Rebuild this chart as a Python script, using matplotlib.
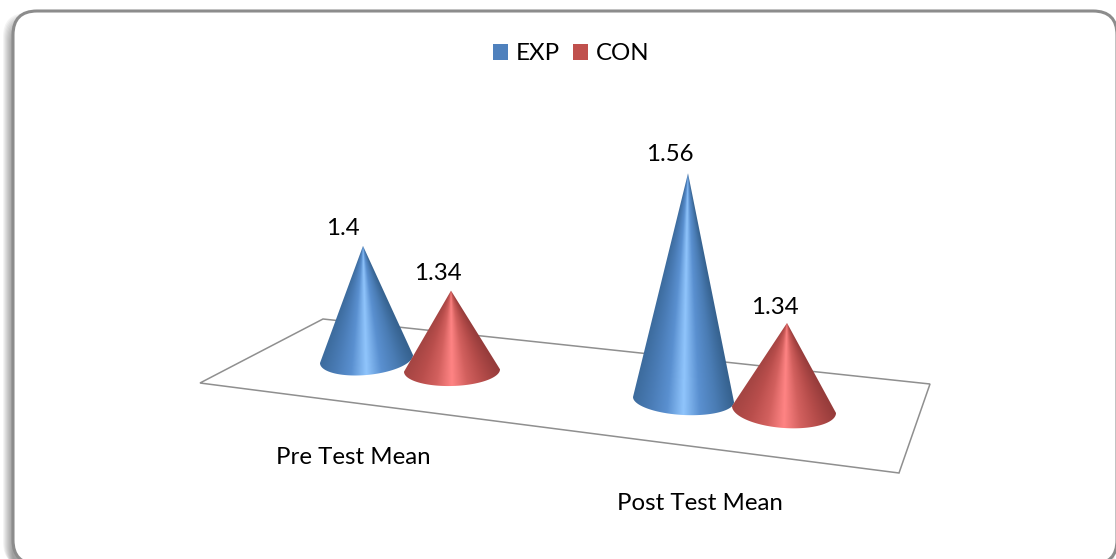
"""Cone chart of pre and post test means, drawn on a tilted floor."""
import matplotlib

matplotlib.use("Agg")
import matplotlib.pyplot as plt
import numpy as np
from matplotlib.colors import LinearSegmentedColormap
from matplotlib.patches import FancyBboxPatch, Patch, Polygon

CATEGORIES = ["Pre Test Mean", "Post Test Mean"]
SERIES = ["EXP", "CON"]
EXP_VALUES = [1.4, 1.56]
CON_VALUES = [1.34, 1.34]

# value axis of the 3D chart: where cones start and how tall a unit is (in base radii)
AXIS_MIN = 1.21
HEIGHT_PER_UNIT = 12.8

# layout, in pixels, order: pre EXP, pre CON, post EXP, post CON
BASE_X = [366.5, 452, 683.5, 784]
BASE_Y = [359, 370.5, 399.5, 409.5]
RADIUS_X = [46.5, 48, 50.5, 52]
RADIUS_Y = [16, 15.5, 15.5, 18.5]
BASE_TILT = [-0.086, -0.025, 0.05, 0.067]
APEX_LEAN = [-3.5, -1, 4.5, 3]
LABEL_OFFSET = [(-20, -17), (-13, -17), (-18, -19), (-12, -15)]

FLOOR = [(200, 383), (323, 319), (930, 384), (899, 473)]
CATEGORY_POS = [(353, 457), (700, 503)]

BLUE = "#4f81bd"
RED = "#c0504d"
BLUE_RAMP = ["#3d6c9e", "#4a7cb6", "#5a90d0", "#90c5fc", "#5a90d0", "#4a7cb4", "#36628f"]
RED_RAMP = ["#a54543", "#b94e4c", "#d2605e", "#ff8484", "#d2605e", "#b54c4a", "#963c3b"]
FRAME = "#8c8c8c"
LABEL_FONT = 17.3

plt.rcParams["font.family"] = ["Lato", "DejaVu Sans"]


def draw_cone(ax, value, i, ramp):
    """Paint the shading along rays from the apex, clipped to the cone outline."""
    cx, cy, rx, ry = BASE_X[i], BASE_Y[i], RADIUS_X[i], RADIUS_Y[i]
    height = rx * HEIGHT_PER_UNIT * (value - AXIS_MIN)
    ax_, ay = cx + APEX_LEAN[i], cy - height
    u = np.sin(np.linspace(-np.pi / 2, np.pi / 2, 201))
    x = cx + rx * u
    y = cy + BASE_TILT[i] * rx * u + ry * np.sqrt(1 - u**2)

    left, right = cx - rx - 1, cx + rx + 1
    top, bottom = ay - 1, cy + abs(BASE_TILT[i]) * rx + ry + 1
    px, py = np.meshgrid(
        np.linspace(left, right, int(right - left) * 3),
        np.linspace(top, bottom, int(bottom - top) * 3),
    )
    ray_slope = (x - ax_) / (y - ay)
    shade = np.interp((px - ax_) / np.maximum(py - ay, 0.01), ray_slope, u)
    cmap = LinearSegmentedColormap.from_list("cone", ramp)
    im = ax.imshow(
        cmap(shade / 2 + 0.5), extent=(left, right, bottom, top), aspect="auto",
        interpolation="bilinear", zorder=3 + i,
    )
    outline = Polygon(np.vstack([[ax_, ay], np.column_stack([x, y])]), closed=True, transform=ax.transData)
    im.set_clip_path(outline)

    dx, dy = LABEL_OFFSET[i]
    ax.text(
        ax_ + dx, ay + dy, f"{value:g}", ha="center", va="center",
        fontsize=LABEL_FONT, color="black", zorder=10,
    )


def main():
    fig = plt.figure(figsize=(11.16, 5.59), dpi=100)
    ax = fig.add_axes([0, 0, 1, 1])
    ax.axis("off")

    # soft shadow on the left of the frame
    for k in range(1, 11):
        ax.add_patch(
            FancyBboxPatch(
                (13 - k, 11 + 12 - k), 1104, 553, boxstyle="round,pad=0,rounding_size=24",
                facecolor="black", edgecolor="none", alpha=0.045, zorder=0,
            )
        )
    ax.add_patch(
        FancyBboxPatch(
            (13, 11), 1104, 553, boxstyle="round,pad=0,rounding_size=24",
            facecolor="white", edgecolor=FRAME, lw=2.2, zorder=1,
        )
    )

    ax.add_patch(Polygon(FLOOR, closed=True, fill=False, edgecolor="#8f8f8f", lw=1.1, zorder=2))

    values = [EXP_VALUES[0], CON_VALUES[0], EXP_VALUES[1], CON_VALUES[1]]
    ramps = [BLUE_RAMP, RED_RAMP, BLUE_RAMP, RED_RAMP]
    for i, (value, ramp) in enumerate(zip(values, ramps)):
        draw_cone(ax, value, i, ramp)

    for name, (x, y) in zip(CATEGORIES, CATEGORY_POS):
        ax.text(x, y, name, ha="center", va="center", fontsize=LABEL_FONT, color="black", zorder=10)

    # imshow resets the limits, so they go after the cones
    ax.set_xlim(0, 1116)
    ax.set_ylim(559, 0)

    handles = [Patch(facecolor=BLUE, label=SERIES[0]), Patch(facecolor=RED, label=SERIES[1])]
    ax.legend(
        handles=handles, ncols=2, loc="center", bbox_to_anchor=(571, 54),
        bbox_transform=ax.transData, frameon=False, fontsize=LABEL_FONT,
        handlelength=0.65, handleheight=0.65, handletextpad=0.3, columnspacing=0.55,
    )

    fig.savefig("out.png", dpi=100, facecolor="white")


if __name__ == "__main__":
    main()
